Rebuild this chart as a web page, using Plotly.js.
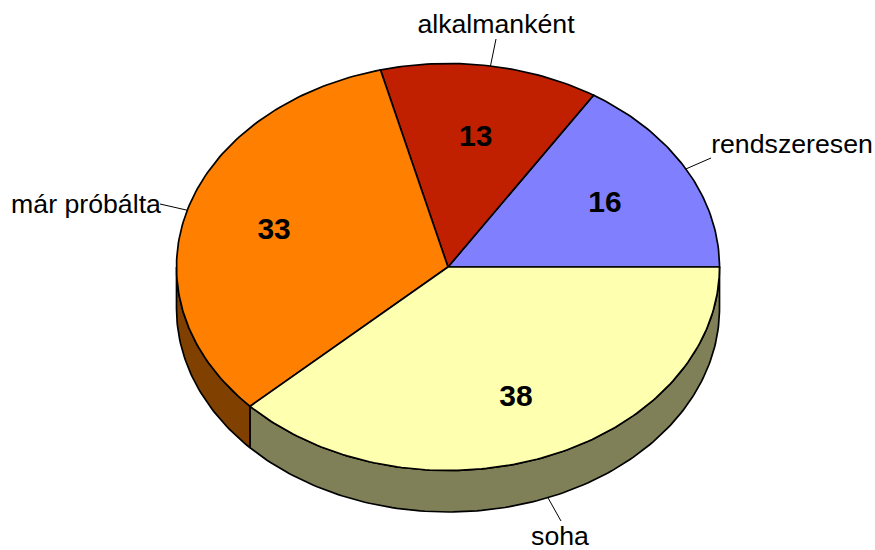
<!DOCTYPE html>
<html><head><meta charset="utf-8">
<script src="https://cdn.plot.ly/plotly-3.0.1.min.js"></script>
<style>html,body{margin:0;padding:0;background:#fff}#c{width:875px;height:550px}</style>
</head><body><div id="c"></div>
<script>
// Data
const categories = ['rendszeresen','alkalmanként','már próbálta','soha'];
const values = [16,13,33,38];
const topColors = ['#8080FF','#C02000','#FF8000','#FFFFB0'];
const sideColors = ['#404080','#602000','#804000','#808058'];
// Geometry of the tilted pie, in plot units
const cx=448, cy=267, rx=271.5, ry=203.5, depth=41.5;
// Label placement: leader end x,y then text x,y
const labelAnchors = [[711,158,792,146],[496,39,496,26.5],[160,204,86,206.5],[561,521,560,538]];
const valueRadii = [0.66,0.652,0.667,0.68];
const valueDrop = 2.5;

const total = values.reduce((a,b)=>a+b,0);
const pt=(deg,dy=0,k=1)=>{const t=deg*Math.PI/180;return [cx+k*rx*Math.cos(t),cy-k*ry*Math.sin(t)+dy];};
const traces=[];
function arc(a,b,dy){const n=Math.max(2,Math.ceil(Math.abs(b-a)));const o=[];for(let i=0;i<=n;i++)o.push(pt(a+(b-a)*i/n,dy));return o;}
function poly(pts,fill){traces.push({type:'scatter',mode:'lines',x:pts.map(p=>p[0]),y:pts.map(p=>p[1]),
  fill:'toself',fillcolor:fill,line:{color:'#000',width:1.7,shape:'linear'},hoverinfo:'skip',showlegend:false});}
let start=0; const slices=values.map((v,i)=>{const s=start;start+=v/total*360;return {s,e:start,i};});
// Side walls: only the front half (180..360 deg) is visible
slices.forEach(({s,e,i})=>{
  const a=Math.max(s,180), b=Math.min(e,360);
  if(b>a){const lo=arc(a,b,depth), up=arc(b,a,0);poly(lo.concat(up,[lo[0]]),sideColors[i]);}
});
// Top faces
slices.forEach(({s,e,i})=>{
  const c=[cx,cy];poly([c].concat(arc(s,e,0),[c]),topColors[i]);
});
// Leader lines
slices.forEach(({s,e,i})=>{
  const m=(s+e)/2, sinM=Math.sin(m*Math.PI/180);
  const p=pt(m, sinM<0?depth:0), a=labelAnchors[i];
  traces.push({type:'scatter',mode:'lines',x:[a[0],p[0]],y:[a[1],p[1]],line:{color:'#000',width:1},hoverinfo:'skip',showlegend:false});
});
// Category labels
traces.push({type:'scatter',mode:'text',x:labelAnchors.map(a=>a[2]),y:labelAnchors.map(a=>a[3]),text:categories,
  textposition:'middle center',textfont:{family:'Liberation Sans, Arial, sans-serif',size:26.7,color:'#000'},hoverinfo:'skip',showlegend:false});
// Value labels
const vp=slices.map(({s,e,i})=>pt((s+e)/2,valueDrop,valueRadii[i]));
traces.push({type:'scatter',mode:'text',x:vp.map(p=>p[0]),y:vp.map(p=>p[1]),text:values.map(String),
  textposition:'middle center',textfont:{family:'Liberation Sans, Arial, sans-serif',size:30,color:'#000',weight:700},hoverinfo:'skip',showlegend:false});
Plotly.newPlot('c',traces,{
  width:875,height:550,margin:{l:0,r:0,t:0,b:0},paper_bgcolor:'#fff',plot_bgcolor:'#fff',showlegend:false,
  xaxis:{range:[0,875],visible:false,fixedrange:true},
  yaxis:{range:[550,0],visible:false,fixedrange:true}
},{displayModeBar:false,staticPlot:true});
</script></body></html>
